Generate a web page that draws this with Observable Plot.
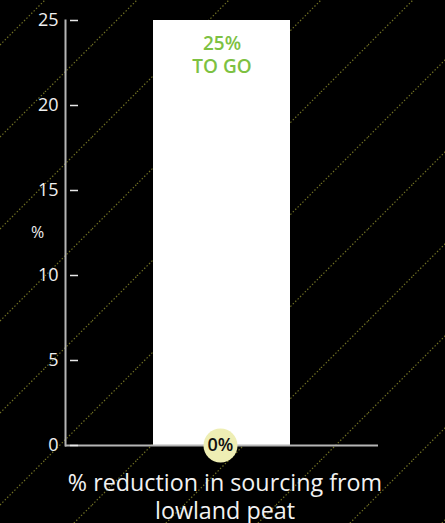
<!DOCTYPE html>
<html>
<head>
<meta charset="utf-8">
<script src="https://cdn.jsdelivr.net/npm/d3@7"></script>
<script src="https://cdn.jsdelivr.net/npm/@observablehq/plot@0.6"></script>
<style>
  html, body { margin: 0; padding: 0; background: #000; }
  #chart {
    width: 445px;
    height: 523px;
    background-color: #000;
    /* dotted diagonal hatching behind the chart */
    background-image: url("data:image/svg+xml,%3Csvg xmlns='http://www.w3.org/2000/svg' width='92' height='92'%3E%3Cg stroke='%23707022' stroke-width='1.2' stroke-dasharray='1.4 2'%3E%3Cline x1='0' y1='45' x2='45' y2='0'/%3E%3Cline x1='45' y1='92' x2='92' y2='45'/%3E%3C/g%3E%3C/svg%3E");
  }
</style>
</head>
<body>
<div id="chart"></div>
<script>
// Target and progress for the lowland peat sourcing reduction
const categories = ["% reduction in sourcing from lowland peat"];
const targets = [25];
const achieved = [0];
const yTicks = [0, 5, 10, 15, 20, 25];

const rows = categories.map((category, i) => ({
  category,
  target: targets[i],
  achieved: achieved[i]
}));

const axisColor = "#b5b5b5";
const font = "'Open Sans', sans-serif";

const chart = Plot.plot({
  width: 445,
  height: 523,
  marginTop: 20,
  marginLeft: 65,
  marginRight: 67,
  marginBottom: 78,
  style: { background: "transparent", color: "#eeeeee", fontFamily: font },
  x: { type: "band", domain: categories, padding: 0.39, label: null },
  y: { domain: [0, 25], label: null },
  marks: [
    Plot.barY(rows, { x: "category", y: "target", fill: "#ffffff" }),
    Plot.ruleY([0], { stroke: axisColor, strokeWidth: 2 }),
    Plot.frame({ anchor: "left", stroke: axisColor, strokeWidth: 2 }),
    Plot.axisY({
      ticks: yTicks,
      tickSize: -8,
      insetLeft: 5,
      tickPadding: 20,
      fontSize: 18,
      stroke: "#e8e8e8",
      strokeWidth: 1.5,
      fill: "#f0f0f0",
      label: null
    }),
    Plot.axisX({
      tickSize: 0,
      tickPadding: 26,
      fontSize: 23.3,
      lineWidth: 15,
      lineHeight: 1.2,
      dx: 3,
      fill: "#f2f2f2",
      label: null
    }),
    Plot.text(rows, {
      x: "category",
      y: "target",
      text: d => `${d.target}%\nTO GO`,
      lineAnchor: "top",
      dy: 13,
      lineHeight: 1.23,
      fill: "#7dc142",
      fontSize: 19,
      fontWeight: 600
    }),
    Plot.dot(rows, { x: "category", y: "achieved", r: 17, fill: "#eeeeb4", dx: -1.5 }),
    Plot.text(rows, {
      x: "category",
      y: "achieved",
      text: d => `${d.achieved}%`,
      dx: -1.5,
      fill: "#111111",
      fontSize: 18,
      fontWeight: 600
    }),
    Plot.text(["%"], { frameAnchor: "left", textAnchor: "middle", dx: -28, fontSize: 16, fill: "#eeeeee" })
  ]
});

document.getElementById("chart").append(chart);
</script>
</body>
</html>
